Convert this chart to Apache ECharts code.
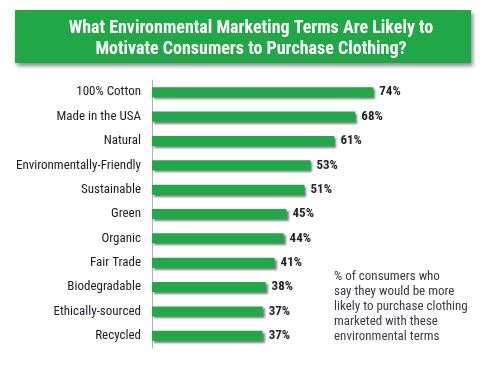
<!DOCTYPE html>
<html><head><meta charset="utf-8">
<script src="https://cdn.jsdelivr.net/npm/echarts@6/dist/echarts.min.js"></script>
<style>html,body{margin:0;padding:0;background:#fff}#c{width:489px;height:370px}</style>
</head><body><div id="c"></div>
<script>
var categories = ['100% Cotton','Made in the USA','Natural','Environmentally-Friendly','Sustainable','Green','Organic','Fair Trade','Biodegradable','Ethically-sourced','Recycled'];
var values = [74,68,61,53,51,45,44,41,38,37,37];
var titleText = 'What Environmental Marketing Terms Are Likely to\nMotivate Consumers to Purchase Clothing?';
var noteText = '% of consumers who\nsay they would be more\nlikely to purchase clothing\nmarketed with these\nenvironmental terms';

var FONT = "'Liberation Sans Narrow','Roboto Condensed','Arial Narrow',sans-serif";
var chart = echarts.init(document.getElementById('c'), null, {renderer:'canvas'});
chart.setOption({
  animation:false,
  backgroundColor:'#fff',
  title:{
    text:titleText, left:246, top:13, textAlign:'center',
    textStyle:{color:'#fff', fontFamily:FONT, fontWeight:'bold', fontSize:18, lineHeight:21}
  },
  graphic:[
    {type:'rect', z:-1, shape:{x:15,y:10,width:456,height:53},
     style:{fill:'#21a846', shadowColor:'rgba(0,0,0,0.45)', shadowBlur:4, shadowOffsetX:2, shadowOffsetY:3}},
    {type:'text', left:334, top:269,
     style:{text:noteText, fill:'#3a3a4a', font:'13px '+FONT, lineHeight:15}}
  ],
  grid:{left:152, right:38, top:80, bottom:22},
  xAxis:{type:'value', min:0, max:100, show:false},
  yAxis:{type:'category', data:categories, inverse:true,
    axisLine:{show:true, lineStyle:{color:'#b0b0b0', width:1}},
    axisTick:{show:false},
    axisLabel:{margin:11, color:'#1c1c28', fontFamily:FONT, fontSize:13}
  },
  series:[{
    type:'bar', data:values, barWidth:10,
    itemStyle:{color:'#1daa47', shadowColor:'rgba(0,0,0,0.5)', shadowBlur:2, shadowOffsetX:2, shadowOffsetY:2},
    label:{show:true, position:'right', distance:6, formatter:'{c}%', color:'#23232f', fontFamily:FONT, fontSize:13, fontWeight:'bold'}
  }]
});
</script></body></html>
